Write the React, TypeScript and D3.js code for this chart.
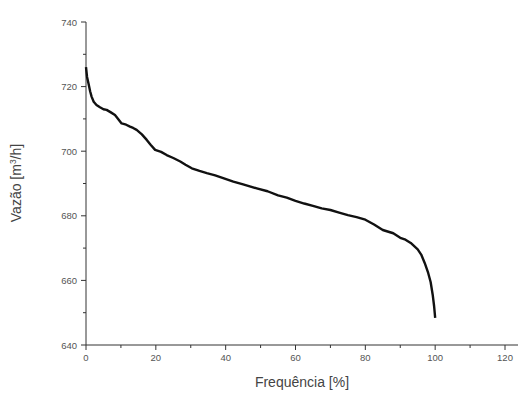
import React, { useEffect, useRef } from "react";
import * as d3 from "d3";

const freq = [0, 0.3, 0.7, 1.2, 1.6, 2.2, 3, 4, 5, 5.9, 7, 8.3, 9.2, 10.2, 11.5, 12.6, 13.5, 14.5, 16, 17.4, 18.5, 19.8, 21.5, 23.1, 25, 27, 28.5, 30.3, 32.5, 34.6, 37, 39.5, 42.2, 45, 48.9, 52, 55, 57.5, 60, 62.5, 65, 67.5, 70, 72.5, 75, 77.5, 80, 82.5, 85, 88, 90, 91.5, 93, 95, 96, 97, 98, 98.7, 99.3, 99.7, 100];
const flow = [726, 723, 721, 718.5, 716.9, 715.3, 714.3, 713.6, 713, 712.8, 712.1, 711.2, 710, 708.6, 708.2, 707.6, 707.2, 706.6, 705.2, 703.5, 702, 700.4, 699.8, 698.8, 697.9, 696.8, 695.8, 694.7, 693.9, 693.2, 692.5, 691.6, 690.6, 689.7, 688.5, 687.6, 686.3, 685.6, 684.6, 683.8, 683.1, 682.3, 681.8, 681, 680.2, 679.6, 678.8, 677.3, 675.6, 674.6, 673.2, 672.6, 671.6, 669.6, 668, 665.4, 662.3, 659.5, 655.5, 652, 648.4];

const xMajor = [0, 20, 40, 60, 80, 100, 120];
const xMinor = [10, 30, 50, 70, 90, 110];
const yMajor = [640, 660, 680, 700, 720, 740];
const yMinor = [650, 670, 690, 710, 730];

export default function App() {
  const ref = useRef<SVGSVGElement>(null);
  useEffect(() => {
    const svg = d3.select(ref.current);
    svg.selectAll("*").remove();
    const x = d3.scaleLinear().domain([0, 120]).range([86, 505]);
    const y = d3.scaleLinear().domain([640, 740]).range([345, 22]);
    const axisColor = "#333";
    const font = "'Liberation Sans', Arial, sans-serif";

    svg.append("line").attr("x1", x(0)).attr("x2", 518).attr("y1", y(640)).attr("y2", y(640))
      .attr("stroke", axisColor).attr("stroke-width", 1);
    svg.append("line").attr("x1", x(0)).attr("x2", x(0)).attr("y1", y(640)).attr("y2", y(740))
      .attr("stroke", axisColor).attr("stroke-width", 1);

    xMajor.forEach((v) => {
      svg.append("line").attr("x1", x(v)).attr("x2", x(v)).attr("y1", y(640)).attr("y2", y(640) + 5)
        .attr("stroke", axisColor);
      svg.append("text").attr("x", x(v)).attr("y", y(640) + 16).attr("text-anchor", "middle")
        .attr("font-family", font).attr("font-size", 9.5).attr("fill", "#555").text(String(v));
    });
    xMinor.forEach((v) => {
      svg.append("line").attr("x1", x(v)).attr("x2", x(v)).attr("y1", y(640)).attr("y2", y(640) + 3)
        .attr("stroke", axisColor);
    });
    yMajor.forEach((v) => {
      svg.append("line").attr("x1", x(0) - 5).attr("x2", x(0)).attr("y1", y(v)).attr("y2", y(v))
        .attr("stroke", axisColor);
      svg.append("text").attr("x", x(0) - 9).attr("y", y(v) + 3.5).attr("text-anchor", "end")
        .attr("font-family", font).attr("font-size", 9.5).attr("fill", "#555").text(String(v));
    });
    yMinor.forEach((v) => {
      svg.append("line").attr("x1", x(0) - 3).attr("x2", x(0)).attr("y1", y(v)).attr("y2", y(v))
        .attr("stroke", axisColor);
    });

    svg.append("text").attr("x", 302).attr("y", 387).attr("text-anchor", "middle")
      .attr("font-family", font).attr("font-size", 14).attr("fill", "#444").text("Frequência [%]");
    const yl = svg.append("text").attr("transform", "translate(21,183) rotate(-90)").attr("text-anchor", "middle")
      .attr("font-family", font).attr("font-size", 14).attr("fill", "#444");
    yl.append("tspan").text("Vazão [m");
    yl.append("tspan").attr("font-size", 8.5).attr("dy", -5).text("3");
    yl.append("tspan").attr("dy", 5).text("/h]");

    const data = freq.map((f, i) => [f, flow[i]] as [number, number]);
    const line = d3.line<[number, number]>().x((d) => x(d[0])).y((d) => y(d[1]));
    svg.append("path").attr("d", line(data) ?? "").attr("fill", "none")
      .attr("stroke", "#111").attr("stroke-width", 2.4).attr("stroke-linejoin", "round");
  }, []);
  return (
    <svg ref={ref} width={519} height={393}
      style={{ position: "absolute", left: 0, top: 0, background: "#fff" }} />
  );
}
